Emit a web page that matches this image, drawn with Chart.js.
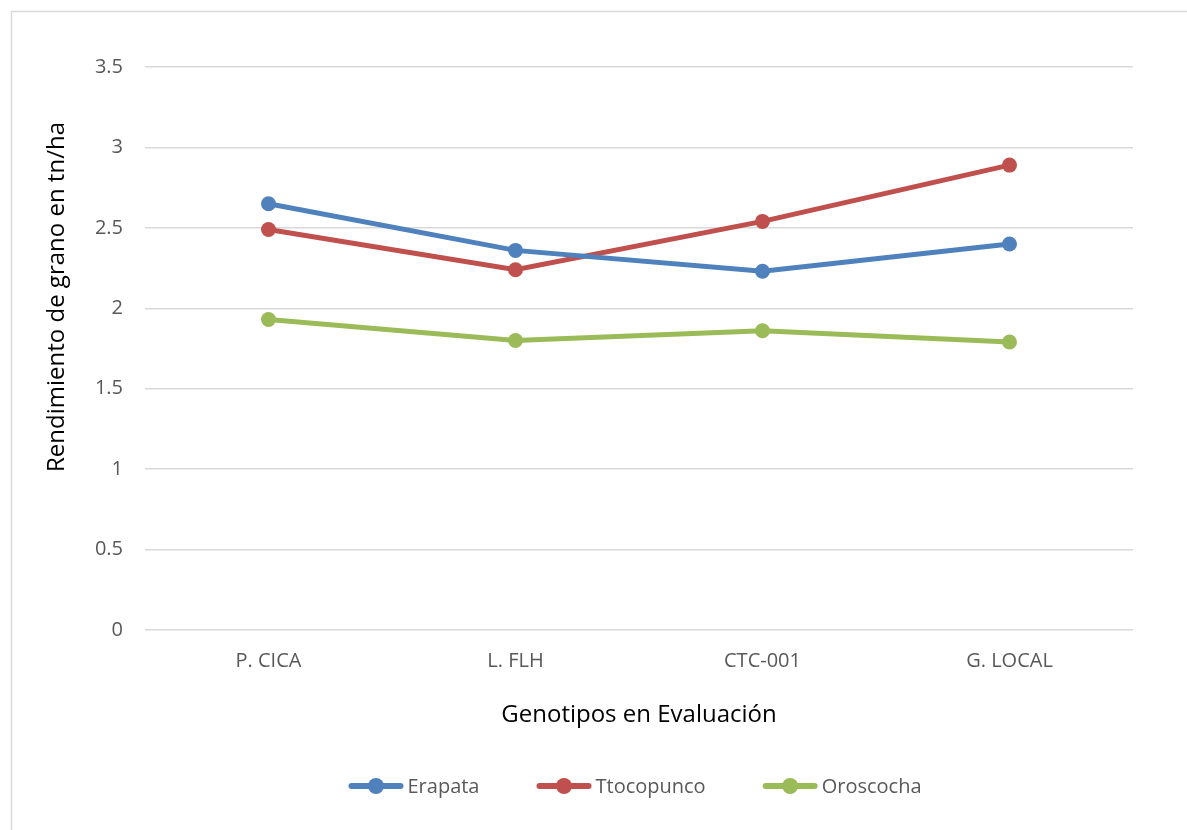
<!DOCTYPE html>
<html>
<head>
<meta charset="utf-8">
<script src="https://cdn.jsdelivr.net/npm/chart.js@4/dist/chart.umd.min.js"></script>
<style>
  html, body { margin: 0; padding: 0; background: #fff; }
  #wrap { width: 1187px; height: 830px; }
</style>
</head>
<body>
<div id="wrap"><canvas id="chart" width="1187" height="830"></canvas></div>
<script>
// ── Data ─────────────────────────────────
const genotipos  = ['P. CICA', 'L. FLH', 'CTC-001', 'G. LOCAL'];
const erapata    = [2.65, 2.36, 2.23, 2.40];
const ttocopunco = [2.49, 2.24, 2.54, 2.89];
const oroscocha  = [1.93, 1.80, 1.86, 1.79];
const yTicks     = [0, 0.5, 1, 1.5, 2, 2.5, 3, 3.5];
const yTitle     = 'Rendimiento de grano en tn/ha';
const xTitle     = 'Genotipos en Evaluación';

const FONT = "'Open Sans', 'Liberation Sans', sans-serif";

// ── Frame (thin gray border like the office chart) ──
const framePlugin = {
    id: 'frame',
    beforeDraw(chart) {
        const ctx = chart.ctx;
        ctx.save();
        ctx.fillStyle = '#fff';
        ctx.fillRect(0, 0, chart.width, chart.height);
        ctx.strokeStyle = '#D9D9D9';
        ctx.lineWidth = 1.5;
        ctx.beginPath();
        ctx.moveTo(11.5, chart.height + 5);
        ctx.lineTo(11.5, 11.5);
        ctx.lineTo(chart.width + 5, 11.5);
        ctx.stroke();
        ctx.restore();
    }
};

// ── Y title (Excel puts it a bit above the plot centre) ──
const yTitlePlugin = {
    id: 'yTitle',
    afterDraw(chart) {
        const ctx = chart.ctx;
        ctx.save();
        ctx.translate(57, 297);
        ctx.rotate(-Math.PI / 2);
        ctx.font = '24px ' + FONT;
        ctx.fillStyle = '#000';
        ctx.textAlign = 'center';
        ctx.textBaseline = 'middle';
        ctx.fillText(yTitle, 0, 0);
        ctx.restore();
    }
};

// ── Legend with line + marker ──
const lineLegend = {
    id: 'lineLegend',
    afterDraw(chart) {
        const ctx = chart.ctx;
        const sets = chart.data.datasets;
        ctx.save();
        ctx.font = '20px ' + FONT;
        const lineLen = 55, gapText = 4, gapItem = 57;
        const widths = sets.map(d => lineLen + gapText + ctx.measureText(d.label).width);
        const total = widths.reduce((a, b) => a + b, 0) + gapItem * (sets.length - 1);
        let x = 635 - total / 2;
        const y = 786;
        sets.forEach((d, i) => {
            ctx.strokeStyle = d.borderColor;
            ctx.lineWidth = 6;
            ctx.lineCap = 'round';
            ctx.beginPath();
            ctx.moveTo(x + 3, y);
            ctx.lineTo(x + lineLen - 3, y);
            ctx.stroke();
            ctx.fillStyle = d.borderColor;
            ctx.beginPath();
            ctx.arc(x + lineLen / 2, y, 8, 0, Math.PI * 2);
            ctx.fill();
            ctx.fillStyle = '#595959';
            ctx.textBaseline = 'middle';
            ctx.textAlign = 'left';
            ctx.fillText(d.label, x + lineLen + gapText, y + 1);
            x += widths[i] + gapItem;
        });
        ctx.restore();
    }
};

function serie(label, data, color) {
    return {
        label, data,
        borderColor: color,
        backgroundColor: color,
        borderWidth: 5,
        pointRadius: 7.5,
        pointHoverRadius: 7.5,
        pointBorderWidth: 0,
        tension: 0
    };
}

new Chart(document.getElementById('chart'), {
    type: 'line',
    data: {
        labels: genotipos,
        datasets: [
            serie('Erapata',    erapata,    '#4F81BD'),
            serie('Ttocopunco', ttocopunco, '#C0504D'),
            serie('Oroscocha',  oroscocha,  '#9BBB59')
        ]
    },
    plugins: [framePlugin, yTitlePlugin, lineLegend],
    options: {
        responsive: false,
        animation: false,
        layout: { padding: { left: 0, right: 54, top: 67, bottom: 100 } },
        plugins: {
            legend: { display: false },
            tooltip: { enabled: false }
        },
        scales: {
            x: {
                offset: true,
                grid: { display: false, drawTicks: false },
                border: { display: false },
                ticks: { color: '#595959', font: { family: FONT, size: 20 }, padding: 19 },
                title: {
                    display: true,
                    text: xTitle,
                    color: '#000',
                    font: { family: FONT, size: 24 },
                    padding: { top: 10, bottom: 0 }
                },
                afterFit(scale) { scale.height = 100; }
            },
            y: {
                min: 0,
                max: 3.5,
                afterBuildTicks(scale) { scale.ticks = yTicks.map(v => ({ value: v })); },
                grid: { color: '#D9D9D9', lineWidth: 1.5, drawTicks: false },
                border: { display: false },
                ticks: {
                    color: '#595959',
                    font: { family: FONT, size: 20 },
                    padding: 22,
                    callback: v => String(v)
                },
                afterFit(scale) { scale.width = 145; }
            }
        }
    }
});
</script>
</body>
</html>
